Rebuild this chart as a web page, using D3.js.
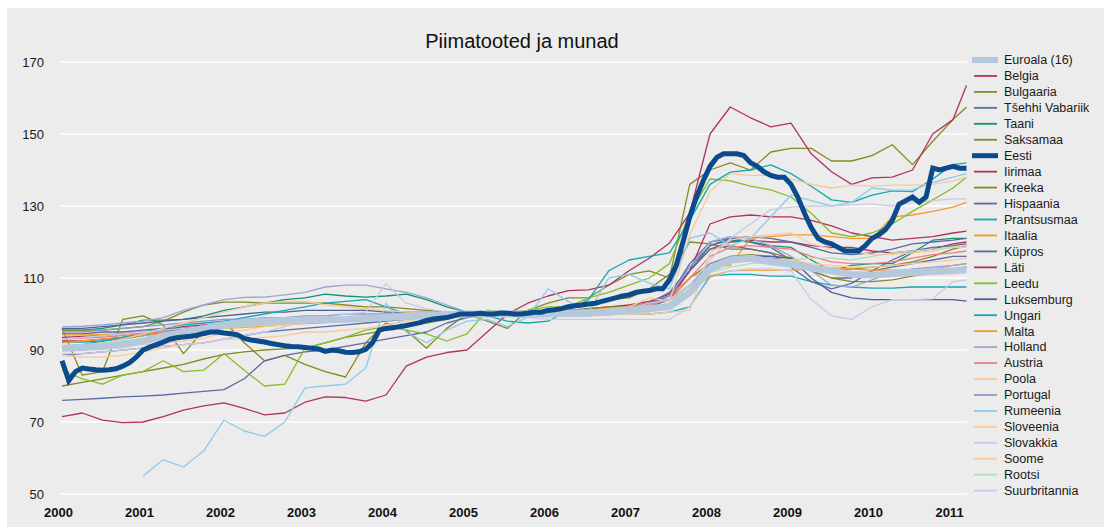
<!DOCTYPE html>
<html>
<head>
<meta charset="utf-8">
<script src="https://cdn.jsdelivr.net/npm/d3@7"></script>
<style>
  body { margin: 0; background: #fff; }
  svg { font-family: "Liberation Sans", Arial, sans-serif; }
</style>
</head>
<body>
<svg width="1108" height="528"></svg>
<script>
// kuud alates jaanuarist 2000 (0 = 2000-01), kvartaalsed punktid
const monthsQ = [0,3,6,9, 12,15,18,21, 24,27,30,33, 36,39,42,45, 48,51,54,57, 60,63,66,69,
                 72,75,78,81, 84,87,90,93, 96,99,102,105, 108,111,114,117, 120,123,126,129, 132,134];
// Eesti igakuised punktid
const monthsM = d3.range(0, 135);

const years = [2000,2001,2002,2003,2004,2005,2006,2007,2008,2009,2010,2011];
const yTicks = [50,70,90,110,130,150,170];

const euroala = [90.5,90.7,91,91.5, 92.5,93.8,94.8,96, 97,97.7,98,98.2, 98.3,98.4,98.5,98.8,
  99,99.3,99.6,99.8, 100,100,100,100, 100,100.2,100.3,100.5, 101,101.5,102,106,
  112.5,115,115.5,114.5, 113.8,112.8,112,111, 110.8,111.2,111.5,111.8, 112,112.3];
const belgia = [92.5,92.5,93,93.5, 94.5,95.5,96.5,97, 97.5,98,98,98, 98.5,98.5,98.5,99,
  99,99.5,99.5,100, 100,100,100,100.5, 100.5,101,101.5,102, 102.5,103.5,105.5,112,
  118,120,120.5,120, 120,119,118.5,118.5, 117.5,117,117.5,118, 119.5,120];
const bulgaaria = [96,83,84,98.5, 99.5,97,89,95.5, 98,92,87,88.5, 86,84,82.5,92,
  97.5,95.5,90.5,96, 100,98,96,101, 103,104.5,104.5,108, 111,112,110,136,
  140,142,140,145, 146,146,142.5,142.5, 144,147,141.5,148, 154,157.5];
const tsehhi = [76,76.3,76.6,77, 77.2,77.5,78,78.5, 79,82,87,88.5, 89.5,90,91,92,
  93,94,95,97.5, 99,100,100.3,100.5, 100.5,101,101,101.5, 102,103,105,114,
  120,121,120,118.5, 115,112,110,110, 112,115,117.5,118.5, 119,119.5];
const taani = [95.5,95.5,96,97, 98.3,98.3,98.5,99.5, 101,102,103,104, 104.5,105.5,105,104.7,
  105,105.5,104,102, 100.5,100,100,100, 100,100.5,100.5,101, 101.5,103,105,112,
  119,120.5,120,119, 118.5,115,112,113.5, 114,114,117,120.5, 121,121];
const saksamaa = [95.5,95.5,95.5,96, 96.5,98,100.5,102.5, 103.3,103.3,103,103, 103,103,102.5,102,
  102,101.5,101,100.5, 100,100,100,100.5, 101,102,103,104, 104.5,107,111,120,
  119.5,118,118,117, 115.5,113,112,112.5, 113,113.5,114.5,116, 118,119];
const eesti = [87,81.5,84,85,84.7,84.5,84.4,84.5,84.8,85.5,86.5,88,
  90,90.8,91.5,92.2,93,93.4,93.6,93.8,94.1,94.6,95,95,
  94.7,94.5,94.2,93.2,92.8,92.5,92.2,91.8,91.5,91.2,91,90.9,
  90.7,90.5,90.3,89.6,90,89.8,89.4,89.3,89.5,90.2,92,95.5,
  96,96.2,96.5,96.8,97.2,97.6,98.2,98.6,98.8,99,99.5,100,
  100,100,100.2,100,100,100.3,100.2,100,100,100.2,100.5,100.5,
  101,101.2,101.5,102,102.3,102.5,102.8,103,103.5,104,104.5,105,
  105.3,106,106.3,106.5,107,107,109.5,113.5,120,127,132.5,137,
  141,143.5,144.5,144.5,144.5,144,142,141,139.5,138.5,138,138,
  136,132.5,128,124,121,120,119.5,118.5,117.5,117.5,117.5,119,
  121,122,123.5,126,130.5,131.5,132.5,131,132.5,140.5,140,140.5,
  141,140.5,140.5];
const iirimaa = [93.5,93.8,94,94.5, 95,95.5,96,96.5, 97,97.3,97.6,98, 98.5,98.8,99,99.3,
  99.5,99.7,99.8,100, 100,100,100,100.3, 100.5,101,101,101.5, 102,103,104,112,
  125,127,127.5,127, 127,126,124.5,122.5, 121.5,120.5,121,121.5, 122.5,123];
const kreeka = [80,81,82,83, 84,85,86,87.5, 88.8,89.5,90,90.3, 90.5,92,93.5,94.5,
  95.5,96.5,97.5,98.5, 100,100,100,100.5, 101,101,101.5,102, 102,103,104,110,
  114,116,116.5,116, 115.5,112,110,109, 109,109.5,110.5,111.5, 112.5,113];
const hispaania = [88.5,89,89.5,90, 90.5,91,91.5,92, 93,94,95,95.5, 96,96.5,97,97.5,
  98,98.5,99,99.5, 100,100,100,100, 100,100.5,100.5,101, 101.5,103,106,113,
  119,121,121.5,121, 120,118.5,117,116.5, 117,118,119.5,120, 120.5,121];
const prantsusmaa = [92.2,92.2,92.5,93, 94,95,96,96.5, 97,97.5,98,98, 98.5,98.5,99,99,
  99.5,99.5,99.8,100, 100,100,100,100, 100,100,100,100, 100,100,100.5,102,
  110.5,111,111,110.5, 110.5,109,108,107.5, 107.2,107.2,107.5,107.5, 107.5,107.5];
const itaalia = [92,92.5,93,93.5, 94,94.5,95,95.5, 96,96.5,97,97.5, 97.5,98,98.5,99,
  99,99.5,99.5,100, 100,100,100,100, 100.5,100.5,101,101.5, 102,103,105,110,
  113,113.5,121,121.5, 122,122,121.5,121, 121,127,127.5,128.5, 129.7,131];
const kypros = [94.5,94.5,95,95, 95.5,96,96,96.5, 97,97,97.5,97.5, 98,98,98.5,98.5,
  99,99,99.5,99.5, 100,100,100,100, 100,100.5,100.5,101, 101.5,103,105,112,
  118,119,118,117, 113,109,107,108.5, 112,113,114,115, 116,116];
const lati = [71.5,72.5,70.5,69.8, 70,71.5,73.3,74.5, 75.3,73.8,72,72.5, 75.5,77,76.8,75.8,
  77.5,85.5,88,89.3, 90,95,100,103, 105,106.5,106.7,108, 112,115.5,119.7,128,
  150,157.5,154.5,152, 153,144.5,139.5,136, 137.8,138,140,150, 154,163.5];
const leedu = [84.4,82,80.5,83, 84,87,84,84.4, 89,84.4,80,80.5, 90.5,92,93.6,95.5,
  96.5,95.5,94.5,92.5, 94.5,101,100.5,101, 102,102,104.5,106, 108,110,114,128,
  137.5,137,135.5,134.5, 132.5,128,122.5,121.5, 122.5,125,128.5,131.7, 135,138];
const luksemburg = [96,96,96.5,97, 97.5,98,98.5,99, 99.5,100,100.5,100.5, 101,101,101,101,
  100.5,100.5,100.5,100, 100,100,100,100, 100,100,100.5,100.5, 101,102,104,108,
  112,115,116,116, 115.5,110,106,104.5, 104,104,104,104, 104,103.6];
const ungari = [91,91.5,92.5,93.5, 95,96,97,97.5, 98,99,100,101, 102,103,103.5,104,
  102,100,99,100, 100,99.5,98,97.5, 98,101,104,112, 115,116,117,126,
  136,139.4,140,141.4, 139,135.5,131.7,131, 133,134.2,134,137.5, 141.5,142];
const malta = [94.2,94.2,94.3,94.5, 94.8,95,95.3,95.6, 96,96.3,96.6,97, 97.3,97.6,98,98.3,
  98.6,99,99.4,99.7, 100,100,100,100, 100,100,100.5,100.5, 100.5,101,103,106.5,
  110.5,112,112.2,112.2, 112.2,112.5,112.8,112.5, 112.2,112.2,112.2,112.5, 113.5,114];
const holland = [96.4,96.6,97,97.5, 98,99,101,102.5, 104,104.6,104.7,105.3, 106,107.5,108,108,
  107,106,104.5,102.5, 100.5,100,100,99.5, 99.5,99.5,99.5,100, 100.5,102,105,113,
  120,121.5,121,119, 116,112,108,107.5, 109.5,111.5,112.5,113, 113.5,114];
const austria = [93,93.3,93.6,94, 94.5,95,95.5,96, 96.5,97,97.5,98, 98.5,99,99,99.5,
  99.5,99.5,100,100, 100,100,100,100, 100,100,100.5,100.5, 101,102.5,104,110,
  116,118.5,119,118.5, 118,116,114.5,114, 114,114.5,115.5,116.5, 117,117.5];
const poola = [88.5,88,88,88.5, 89.5,90.5,91.5,92, 93,93,93.5,94, 95,95,95.5,96,
  97,98,99,99.5, 100,100,100,100.5, 100.5,101,101,101.5, 102,104.5,103.5,122,
  134,139,138.5,138.5, 137.5,136,135,135.8, 135.5,135.8,135.8,136, 137,138];
const portugal = [95,95,95.5,96, 96.5,97,97.5,98, 98.5,98.5,99,99, 99.5,99.5,100,100,
  100,100,100,100, 100,100,99.5,99.5, 99.5,100,100,100.5, 101,101.5,103,108,
  114,116,116,115.5, 115,113.5,112.5,111.5, 111.5,111.5,112,112, 112.5,113];
const rumeenia = [null,null,null,null, 55,59.5,57.5,62, 70.5,67.5,66,70, 79.5,80,80.5,85,
  103,95,92,95.5, 98,98.5,96.5,99.2, 107,103.5,100.5,110, 111,108.6,107,121,
  122.5,119,121,127, 133,131.5,130,131, 135,134.4,134.5,136.5, 138,139];
const sloveenia = [90,90.5,91,91.2, 91.5,92,92.5,93.3, 94.7,95.5,96.5,97, 97.5,98,98.5,99,
  99,99.5,99.5,100, 100,100,100,100, 100,100,100,100, 100,100,100.5,101,
  117,120.5,121.5,122, 122.5,119.5,118,117.5, 116.5,116.5,117,117.5, 118.5,119];
const slovakkia = [89,89,89.5,90, 90.5,91,91.5,92, 93,94,95,96.5, 98,99,100,100.5,
  108.5,103,101.5,100.5, 100,100,100,100, 100,100.5,101,101, 101.5,103,104,108,
  115,121,125,129, 129.7,130,130,130.3, 130.5,130,131,131.5, 132,132];
const soome = [90.5,91,92,93, 94.5,96,97.5,99, 100.5,102,103,103.5, 103.5,102.5,102,101.5,
  101,100.5,100.5,100, 100,100,100,100, 100,100,100,100, 100,100.5,102,107,
  112,114,115,115, 115,114,113.5,113, 113,113.5,114,114.5, 115,115.5];
const rootsi = [91,91.5,92,92.5, 93,94,95,95.5, 96,96.5,97,97.5, 98,98.5,99,99,
  99.5,99.5,100,100, 100,100,100,100, 100,100,100.5,100.5, 101,101.5,103,108,
  111.5,113,114,114.5, 115,115.5,115.5,115, 116,117,117.5,118, 118.5,118.5];
const suurbritannia = [93,93.5,94,94.5, 95,95.5,96,96.5, 97,97,97.5,97.5, 98,98.5,99,99,
  99,99.5,99.5,100, 100,100,99.5,99, 98.5,98.5,98.5,98.5, 98.5,98.5,98.5,102,
  110,112,112.5,112.5, 112,104,99.5,98.5, 102,104,104,104.2, 109,109.5];

// legendi järjekord
const names = ["Euroala (16)","Belgia","Bulgaaria","Tšehhi Vabariik","Taani","Saksamaa","Eesti",
  "Iirimaa","Kreeka","Hispaania","Prantsusmaa","Itaalia","Küpros","Läti","Leedu","Luksemburg",
  "Ungari","Malta","Holland","Austria","Poola","Portugal","Rumeenia","Sloveenia","Slovakkia",
  "Soome","Rootsi","Suurbritannia"];
const colors = ["#b6c9dc","#b2325f","#848b22","#5c6aa7","#0c9672","#848b22","#0b4a8b",
  "#b2325f","#848b22","#5c6aa7","#12a7b6","#f39a2b","#5c6aa7","#b2325f","#88bd27","#4e5e98",
  "#12a7b6","#f39a2b","#9ba5d1","#ee7f88","#fbc89c","#8f99c9","#8dcbeb","#fbc89c","#c9cae5",
  "#fbc89c","#b6dcb6","#c9cae5"];

const seriesValues = [euroala, belgia, bulgaaria, tsehhi, taani, saksamaa, eesti, iirimaa, kreeka,
  hispaania, prantsusmaa, itaalia, kypros, lati, leedu, luksemburg, ungari, malta, holland, austria,
  poola, portugal, rumeenia, sloveenia, slovakkia, soome, rootsi, suurbritannia];

const series = names.map((name, i) => {
  const months = name === "Eesti" ? monthsM : monthsQ;
  return {
    name: name,
    color: colors[i],
    width: name === "Euroala (16)" ? 7 : (name === "Eesti" ? 5 : 1.3),
    points: months.map((m, j) => ({m: m, v: seriesValues[i][j]}))
  };
});

const svg = d3.select("svg");

// taust
svg.append("rect")
  .attr("x", 7).attr("y", 8)
  .attr("width", 1097).attr("height", 519)
  .attr("fill", "#ebeceb");

const x = d3.scaleLinear().domain([0, 134]).range([62, 966.5]);
const y = d3.scaleLinear().domain([50, 170]).range([494, 62]);

// horisontaalsed abijooned
svg.append("g").selectAll("line")
  .data(yTicks)
  .join("line")
  .attr("x1", 60).attr("x2", 967)
  .attr("y1", d => y(d)).attr("y2", d => y(d))
  .attr("stroke", "#ffffff")
  .attr("stroke-width", 1.6);

// y-telg
const yAxis = svg.append("g")
  .attr("transform", "translate(44,0)")
  .call(d3.axisLeft(y).tickValues(yTicks).tickSize(0).tickPadding(0));
yAxis.select(".domain").remove();
yAxis.selectAll("text").attr("font-size", 13).attr("fill", "#1a1a1a")
  .style("font-family", "'Liberation Sans', Arial, sans-serif");

// x-telg
const xAxis = svg.append("g")
  .attr("transform", "translate(-4,500)")
  .call(d3.axisBottom(x)
    .tickValues(years.map(yr => (yr - 2000) * 12))
    .tickFormat(d => String(2000 + d / 12))
    .tickSize(0).tickPadding(8));
xAxis.select(".domain").remove();
xAxis.selectAll("text").attr("font-size", 13).attr("font-weight", "bold").attr("fill", "#111")
  .style("font-family", "'Liberation Sans', Arial, sans-serif");

// pealkiri
svg.append("text")
  .attr("x", 522).attr("y", 48)
  .attr("text-anchor", "middle")
  .attr("font-size", 20)
  .attr("fill", "#111")
  .text("Piimatooted ja munad");

const line = d3.line()
  .defined(d => d.v !== null)
  .x(d => x(d.m))
  .y(d => y(d.v));

// kõigepealt õhukesed jooned, siis euroala, siis Eesti
const thin = series.filter(s => s.name !== "Euroala (16)" && s.name !== "Eesti");
const order = thin.concat(series.filter(s => s.name === "Euroala (16)"), series.filter(s => s.name === "Eesti"));

svg.append("g").selectAll("path")
  .data(order)
  .join("path")
  .attr("d", d => line(d.points))
  .attr("fill", "none")
  .attr("stroke", d => d.color)
  .attr("stroke-width", d => d.width)
  .attr("stroke-linejoin", d => d.name === "Eesti" ? "miter" : "round");

// legend
const legend = svg.append("g");
const lg = legend.selectAll("g")
  .data(series)
  .join("g")
  .attr("transform", (d, i) => `translate(0,${60 + i * 15.95})`);
lg.append("line")
  .attr("x1", d => d.width > 2 ? 972 : 974)
  .attr("x2", d => d.width > 2 ? 998 : 997)
  .attr("stroke", d => d.color)
  .attr("stroke-width", d => d.name === "Euroala (16)" ? 6 : (d.name === "Eesti" ? 5 : 1.8));
lg.append("text")
  .attr("x", 1004)
  .attr("dy", "0.35em")
  .attr("font-size", 12.5)
  .attr("fill", "#1a1a1a")
  .text(d => d.name);
</script>
</body>
</html>
